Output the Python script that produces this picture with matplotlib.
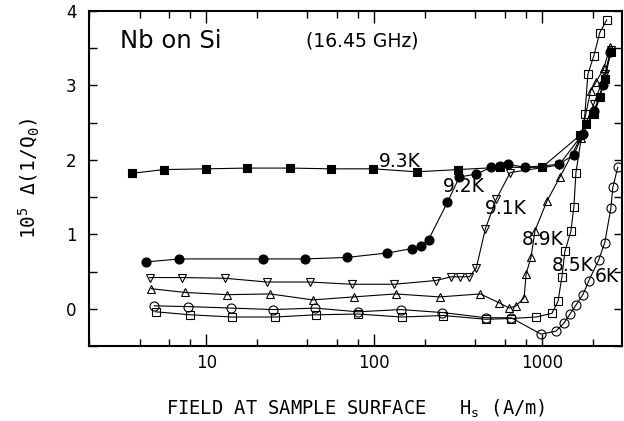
import matplotlib
matplotlib.use("Agg")
import matplotlib.pyplot as plt
from matplotlib.ticker import LogLocator, FixedLocator, NullFormatter, FixedFormatter

plt.rcParams['font.family'] = ['DejaVu Sans']
plt.rcParams['mathtext.default'] = 'regular'
MONO = ['DejaVu Sans Mono', 'DejaVu Sans']

# ---- data ----
x93 = [3.6, 5.6, 10, 17.5, 31.5, 55, 99, 179, 317, 563, 1000, 1683, 1825, 2036, 2209, 2365, 2570]
y93 = [1.82, 1.87, 1.88, 1.89, 1.89, 1.88, 1.88, 1.84, 1.87, 1.90, 1.90, 2.33, 2.48, 2.61, 2.84, 3.08, 3.45]

x92 = [4.4, 6.9, 21.8, 38.7, 68.7, 120, 169, 189, 211, 273, 322, 406, 498, 560, 628, 792, 1260, 1548, 1750, 2050, 2300, 2550]
y92 = [0.63, 0.67, 0.67, 0.67, 0.69, 0.75, 0.81, 0.84, 0.93, 1.43, 1.77, 1.81, 1.90, 1.92, 1.94, 1.90, 1.94, 2.07, 2.35, 2.65, 3.0, 3.45]

x91 = [4.6, 7.2, 13.0, 23.0, 41.4, 73.5, 132, 232, 288, 326, 369, 406, 459, 533, 646, 1260, 1683, 2036, 2365, 2570]
y91 = [0.42, 0.42, 0.41, 0.36, 0.36, 0.33, 0.33, 0.38, 0.43, 0.43, 0.43, 0.55, 1.07, 1.47, 1.83, 1.93, 2.30, 2.75, 3.15, 3.47]

x89 = [4.7, 7.5, 13.3, 24, 43, 75.5, 134, 245, 429, 556, 637, 701, 782, 804, 861, 908, 1071, 1279, 1700, 1950, 2090, 2333, 2535]
y89 = [0.27, 0.22, 0.19, 0.20, 0.12, 0.16, 0.20, 0.16, 0.20, 0.08, 0.01, 0.04, 0.15, 0.47, 0.70, 1.05, 1.45, 1.77, 2.30, 2.93, 3.04, 3.23, 3.51]

x85 = [5.0, 8.0, 14.3, 25.7, 45, 80, 146, 258, 465, 655, 921, 1146, 1244, 1314, 1368, 1485, 1548, 1592, 1800, 1875, 2036, 2209, 2430]
y85 = [-0.04, -0.08, -0.11, -0.11, -0.08, -0.07, -0.11, -0.09, -0.14, -0.13, -0.11, -0.06, 0.10, 0.43, 0.77, 1.04, 1.37, 1.83, 2.61, 3.15, 3.40, 3.71, 3.88]

x6 = [4.9, 7.8, 14.1, 25, 44.4, 80, 144, 255, 465, 655, 986, 1211, 1351, 1467, 1592, 1751, 1901, 2179, 2365, 2570, 2640, 2825]
y6 = [0.04, 0.03, 0.01, -0.01, 0.01, -0.04, -0.01, -0.05, -0.12, -0.12, -0.34, -0.30, -0.19, -0.07, 0.05, 0.19, 0.38, 0.66, 0.89, 1.35, 1.63, 1.90]

series = [
    (x93, y93, 's', 'k'),
    (x92, y92, 'o', 'k'),
    (x91, y91, 'v', 'none'),
    (x89, y89, '^', 'none'),
    (x85, y85, 's', 'none'),
    (x6, y6, 'o', 'none'),
]

labels = ['9.3K', '9.2K', '9.1K', '8.9K', '8.5K', '6K']
label_x = [142, 344, 611, 1014, 1528, 2430]
label_y = [1.98, 1.64, 1.35, 0.93, 0.58, 0.43]

xticks_major = [10, 100, 1000]
xtick_labels = ['10', '100', '1000']
yticks_major = [0, 1, 2, 3, 4]

fig = plt.figure(figsize=(6.24, 4.21), dpi=100)
ax = fig.add_axes([0.1426, 0.178, 0.8544, 0.796])

for xs, ys, m, fc in series:
    ax.plot(xs, ys, color='k', lw=0.8, marker=m, ms=6 if m != 'o' else 6.5,
            mfc=fc, mec='k', mew=0.8)

for t, lx, ly in zip(labels, label_x, label_y):
    ax.text(lx, ly, t, fontsize=13.5, ha='center', va='center')

ax.set_xscale('log')
ax.set_xlim(2, 3000)
ax.set_ylim(-0.5, 4)

ax.xaxis.set_major_locator(FixedLocator(xticks_major))
ax.xaxis.set_major_formatter(FixedFormatter(xtick_labels))
ax.xaxis.set_minor_locator(LogLocator(base=10, subs=(2, 4, 6, 8)))
ax.xaxis.set_minor_formatter(NullFormatter())
ax.set_yticks(yticks_major)
ax.set_yticks([-0.5, 0.5, 1.5, 2.5, 3.5], minor=True)

ax.tick_params(which='both', direction='in', top=True, right=True, width=1.0,
               labelsize=12)
ax.tick_params(axis='x', which='major', length=8.5, pad=6)
ax.tick_params(axis='x', which='minor', length=5)
ax.tick_params(axis='y', which='both', length=6, pad=9)

for s in ax.spines.values():
    s.set_linewidth(1.5)

ax.text(0.058, 0.91, 'Nb on Si', transform=ax.transAxes, fontsize=17.5,
        ha='left', va='center')
ax.text(0.407, 0.91, '(16.45 GHz)', transform=ax.transAxes, fontsize=13.5,
        ha='left', va='center')

ax.set_xlabel('FIELD AT SAMPLE SURFACE   H$_s$ (A/m)', fontsize=13.5,
              labelpad=18, family=MONO)
ax.set_ylabel('10$^5$ Δ(1/Q$_0$)', fontsize=14, labelpad=17, family=MONO)

fig.savefig('out.png', dpi=100)
